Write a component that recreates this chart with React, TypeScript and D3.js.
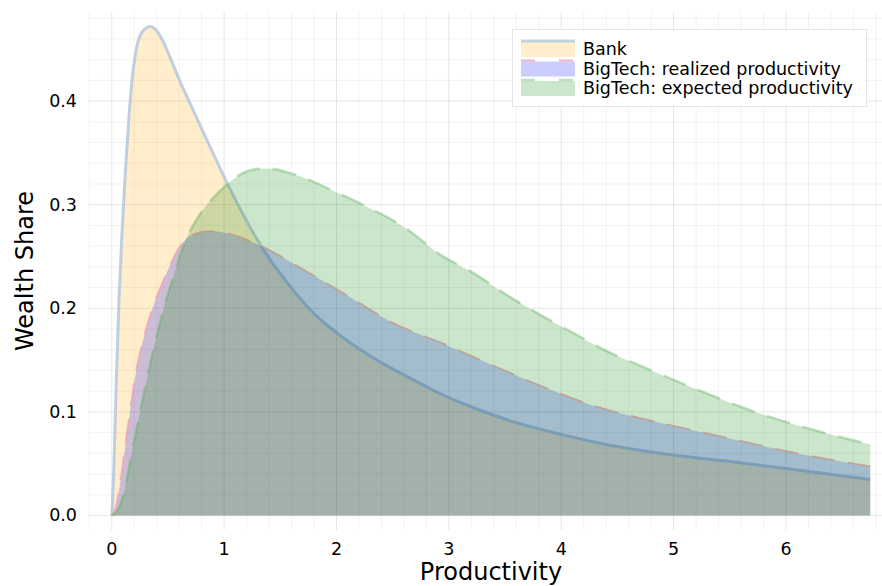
import React from "react";
import * as d3 from "d3";

const W = 882;
const H = 586;

// plot frame in pixels
const frame = { left: 89, right: 893, top: 12, bottom: 530 };

const xTicks = [0, 1, 2, 3, 4, 5, 6];
const xTickLabels = ["0", "1", "2", "3", "4", "5", "6"];
const yTicks = [0, 0.1, 0.2, 0.3, 0.4];
const yTickLabels = ["0.0", "0.1", "0.2", "0.3", "0.4"];

// Bank wealth-share density
const bankX = [0, 0.01, 0.02, 0.04, 0.065, 0.09, 0.12, 0.155, 0.18, 0.21, 0.26, 0.34, 0.4, 0.46, 0.52, 0.6, 0.7, 0.78, 0.87, 0.96, 1.04, 1.33, 1.56, 1.79, 2.0, 2.3, 2.62, 3.0, 3.22, 3.6, 4.0, 4.4, 4.9, 5.47, 6.07, 6.75];
const bankY = [0, 0.02, 0.05, 0.13, 0.21, 0.27, 0.33, 0.388, 0.42, 0.445, 0.465, 0.472, 0.468, 0.457, 0.442, 0.421, 0.397, 0.378, 0.357, 0.336, 0.318, 0.26, 0.225, 0.196, 0.1765, 0.154, 0.1346, 0.1137, 0.104, 0.0896, 0.0783, 0.0686, 0.0598, 0.0525, 0.0444, 0.0348];

// BigTech, realized productivity
const realizedX = [0, 0.03, 0.056, 0.1, 0.16, 0.22, 0.28, 0.37, 0.49, 0.6, 0.7, 0.88, 1.0, 1.33, 1.7, 2.15, 2.5, 2.93, 3.37, 3.81, 4.26, 4.89, 5.47, 6.07, 6.75];
const realizedY = [0, 0.006, 0.019, 0.051, 0.099, 0.141, 0.17, 0.202, 0.2345, 0.2586, 0.27, 0.2745, 0.273, 0.26, 0.2377, 0.2087, 0.186, 0.1668, 0.1459, 0.1255, 0.107, 0.0893, 0.0751, 0.0606, 0.0474];

// BigTech, expected productivity
const expectedX = [0, 0.05, 0.1, 0.19, 0.28, 0.37, 0.46, 0.55, 0.64, 0.78, 0.96, 1.04, 1.26, 1.38, 1.62, 1.94, 2.27, 2.62, 2.92, 3.22, 3.52, 3.81, 4.11, 4.4, 4.76, 5.2, 5.62, 6.07, 6.75];
const expectedY = [0, 0.005, 0.019, 0.067, 0.115, 0.16, 0.199, 0.231, 0.261, 0.29, 0.313, 0.321, 0.334, 0.335, 0.3295, 0.315, 0.298, 0.277, 0.252, 0.234, 0.2126, 0.194, 0.176, 0.159, 0.142, 0.122, 0.104, 0.088, 0.0686];

const seriesNames = ["Bank", "BigTech: realized productivity", "BigTech: expected productivity"];

const FONT = "'DejaVu Sans', 'Liberation Sans', sans-serif";

type Series = {
  name: string;
  xs: number[];
  ys: number[];
  fill: string;
  fillOpacity: number;
  stroke: string;
  strokeOpacity: number;
  strokeWidth: number;
  dash?: string;
};

const series: Series[] = [
  { name: seriesNames[0], xs: bankX, ys: bankY, fill: "rgb(255,165,0)", fillOpacity: 0.2, stroke: "rgb(176,196,222)", strokeOpacity: 0.8, strokeWidth: 3 },
  { name: seriesNames[1], xs: realizedX, ys: realizedY, fill: "rgb(0,0,255)", fillOpacity: 0.2, stroke: "rgb(240,160,180)", strokeOpacity: 0.8, strokeWidth: 1.8, dash: "24,13" },
  { name: seriesNames[2], xs: expectedX, ys: expectedY, fill: "rgb(0,128,0)", fillOpacity: 0.2, stroke: "rgb(90,175,90)", strokeOpacity: 0.38, strokeWidth: 2.6, dash: "24,13" },
];

export default function App() {
  const x = d3.scaleLinear().domain([-0.2025, 6.9525]).range([frame.left, frame.right]);
  const y = d3.scaleLinear().domain([-0.014, 0.486]).range([frame.bottom, frame.top]);

  const xMinor = d3.range(-0.2, 6.81, 0.2).filter((v) => Math.abs(v - Math.round(v)) > 1e-6);
  const yMinor = d3.range(0.02, 0.481, 0.02).filter((v) => Math.abs(v * 10 - Math.round(v * 10)) > 1e-6);

  const area = (s: Series) =>
    d3
      .area<number>()
      .x((_, i) => x(s.xs[i]))
      .y0(y(0))
      .y1((d) => y(d))
      .curve(d3.curveMonotoneX)(s.ys) || "";
  const line = (s: Series) =>
    d3
      .line<number>()
      .x((_, i) => x(s.xs[i]))
      .y((d) => y(d))
      .curve(d3.curveMonotoneX)(s.ys) || "";

  const legend = { x: 512.5, y: 29.5, w: 354, h: 77, rowY: [49, 68.5, 88] };

  return (
    <svg width={W} height={H} style={{ position: "absolute", left: 0, top: 0, background: "#fff" }} fontFamily={FONT}>
      <rect x={0} y={0} width={W} height={H} fill="#fff" />
      {/* grid */}
      <g>
        {xMinor.map((v) => (
          <line key={"xm" + v} x1={x(v)} x2={x(v)} y1={frame.top} y2={frame.bottom} stroke="rgb(0,0,40)" strokeOpacity={0.05} />
        ))}
        {yMinor.map((v) => (
          <line key={"ym" + v} x1={frame.left} x2={frame.right} y1={y(v)} y2={y(v)} stroke="rgb(0,0,40)" strokeOpacity={0.05} />
        ))}
        {xTicks.map((v) => (
          <line key={"xg" + v} x1={x(v)} x2={x(v)} y1={frame.top} y2={frame.bottom} stroke="rgb(0,0,40)" strokeOpacity={0.1} />
        ))}
        {yTicks.map((v) => (
          <line key={"yg" + v} x1={frame.left} x2={frame.right} y1={y(v)} y2={y(v)} stroke="rgb(0,0,40)" strokeOpacity={0.1} />
        ))}
      </g>
      {/* series: fill then outline, in drawing order */}
      {series.map((s) => (
        <g key={s.name}>
          <path d={area(s)} fill={s.fill} fillOpacity={s.fillOpacity} />
          <path
            d={line(s)}
            fill="none"
            stroke={s.stroke}
            strokeOpacity={s.strokeOpacity}
            strokeWidth={s.strokeWidth}
            strokeDasharray={s.dash}
            strokeLinejoin="round"
          />
        </g>
      ))}
      {/* tick labels */}
      {xTicks.map((v, i) => (
        <text key={"xt" + v} x={x(v)} y={549} fontSize={17.5} textAnchor="middle" dominantBaseline="central" fill="#000">
          {xTickLabels[i]}
        </text>
      ))}
      {yTicks.map((v, i) => (
        <text key={"yt" + v} x={77} y={y(v)} fontSize={17.5} textAnchor="end" dominantBaseline="central" fill="#000">
          {yTickLabels[i]}
        </text>
      ))}
      {/* axis titles */}
      <text x={(frame.left + frame.right) / 2} y={580} fontSize={24} textAnchor="middle" fill="#000">
        Productivity
      </text>
      <text transform={`translate(33, ${(frame.top + frame.bottom) / 2}) rotate(-90)`} fontSize={24} textAnchor="middle" fill="#000">
        Wealth Share
      </text>
      {/* legend */}
      <g>
        <rect x={legend.x} y={legend.y} width={legend.w} height={legend.h} fill="#fff" stroke="rgb(0,0,40)" strokeOpacity={0.1} strokeWidth={1} />
        {series.map((s, i) => {
          const cy = legend.rowY[i];
          return (
            <g key={"lg" + s.name}>
              <rect x={521} y={cy - 7} width={54} height={15} fill={s.fill} fillOpacity={s.fillOpacity} />
              <line
                x1={521}
                x2={575}
                y1={cy - 8}
                y2={cy - 8}
                stroke={s.stroke}
                strokeOpacity={s.strokeOpacity}
                strokeWidth={s.strokeWidth}
                strokeDasharray={s.dash ? "14,24" : undefined}
              />
              <text x={583} y={cy} fontSize={17.5} dominantBaseline="central" fill="#000">
                {s.name}
              </text>
            </g>
          );
        })}
      </g>
    </svg>
  );
}
